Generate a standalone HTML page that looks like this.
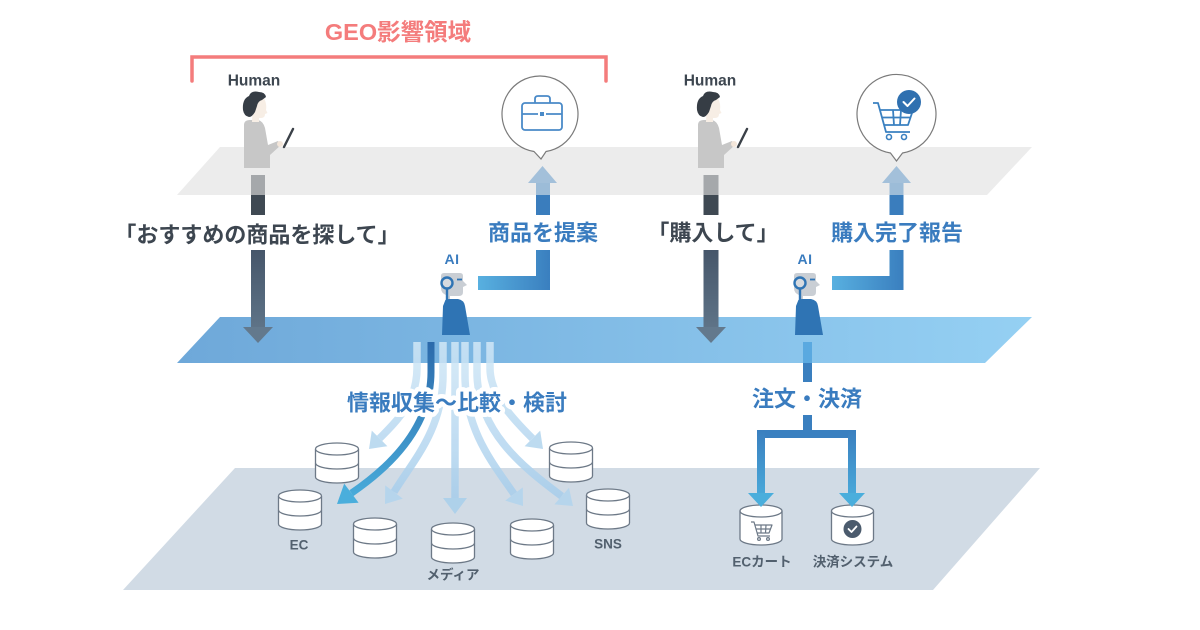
<!DOCTYPE html>
<html><head><meta charset="utf-8">
<style>
html,body{margin:0;padding:0;background:#fff;}
svg{display:block;}
text{font-family:"Liberation Sans","Noto Sans CJK JP",sans-serif;font-weight:700;}
</style></head><body>
<svg width="1200" height="630" viewBox="0 0 1200 630" xmlns="http://www.w3.org/2000/svg">
<defs>
<linearGradient id="bp" x1="177" y1="0" x2="1032" y2="0" gradientUnits="userSpaceOnUse">
<stop offset="0" stop-color="#6ea8d9"/><stop offset="1" stop-color="#95d0f3"/></linearGradient>
<linearGradient id="dk" x1="0" y1="250" x2="0" y2="343" gradientUnits="userSpaceOnUse">
<stop offset="0" stop-color="#46566a"/><stop offset="1" stop-color="#63798d"/></linearGradient>
<linearGradient id="lc" x1="478" y1="0" x2="550" y2="0" gradientUnits="userSpaceOnUse">
<stop offset="0" stop-color="#58b0e0"/><stop offset="1" stop-color="#3a7fbf"/></linearGradient>
<linearGradient id="lc2" x1="832" y1="0" x2="903" y2="0" gradientUnits="userSpaceOnUse">
<stop offset="0" stop-color="#58b0e0"/><stop offset="1" stop-color="#3a7fbf"/></linearGradient>
<linearGradient id="lt" x1="0" y1="342" x2="0" y2="514" gradientUnits="userSpaceOnUse">
<stop offset="0" stop-color="#d2e8f7"/><stop offset="1" stop-color="#a2cbeb"/></linearGradient>
<linearGradient id="dkb" x1="0" y1="342" x2="0" y2="504" gradientUnits="userSpaceOnUse">
<stop offset="0" stop-color="#2c6aab"/><stop offset="1" stop-color="#4aaedc"/></linearGradient>
<linearGradient id="vb" x1="0" y1="430" x2="0" y2="507" gradientUnits="userSpaceOnUse">
<stop offset="0" stop-color="#3a7fbf"/><stop offset="1" stop-color="#4cb0de"/></linearGradient>
</defs>

<!-- planes -->
<polygon points="235,468 1040,468 933,590 123,590" fill="#d1dbe5"/>
<polygon points="220,317 1032,317 985,363 177,363" fill="url(#bp)"/>
<polygon points="220,147 1032,147 987,195 177,195" fill="#ececec"/>

<!-- GEO bracket -->
<path d="M192,81 L192,57 L606,57 L606,81" fill="none" stroke="#f47c7c" stroke-width="3.5" stroke-linecap="round" stroke-linejoin="miter"/>
<text x="398" y="32" text-anchor="middle" dominant-baseline="central" font-size="23.5" fill="#f47c7c">GEO影響領域</text>

<!-- Human labels -->
<text x="254" y="81" text-anchor="middle" dominant-baseline="central" font-size="15.5" fill="#3d4650">Human</text>
<text x="710" y="81" text-anchor="middle" dominant-baseline="central" font-size="15.5" fill="#3d4650">Human</text>

<!-- person left -->
<g>
<path d="M244,125 Q244,120 250,120 L258,120 Q263,121 265,128 L268,145 L278,141 L281,145 L270,155 L270,168 L244,168 Z" fill="#c7c7c7"/>
<path d="M253,98 L264,98 Q267,104 266,110 L267.5,113 L265,114 Q265,118 261,118 L259,118 L259,122 L252,122 Z" fill="#f7eee5"/>
<path d="M243,110 Q242,99 249,96 Q251,90 259,92 Q265,92 266,97 L262,100 Q258,101 257,106 L255,112 Q252,117 249,117 Q244,116 243,110 Z" fill="#363d45"/>
<line x1="284" y1="147" x2="293" y2="129" stroke="#3b4148" stroke-width="2.4" stroke-linecap="round"/>
<circle cx="280" cy="144" r="3" fill="#f3e6da"/>
</g>
<!-- person right -->
<g transform="translate(454,0)">
<path d="M244,125 Q244,120 250,120 L258,120 Q263,121 265,128 L268,145 L278,141 L281,145 L270,155 L270,168 L244,168 Z" fill="#c7c7c7"/>
<path d="M253,98 L264,98 Q267,104 266,110 L267.5,113 L265,114 Q265,118 261,118 L259,118 L259,122 L252,122 Z" fill="#f7eee5"/>
<path d="M243,110 Q242,99 249,96 Q251,90 259,92 Q265,92 266,97 L262,100 Q258,101 257,106 L255,112 Q252,117 249,117 Q244,116 243,110 Z" fill="#363d45"/>
<line x1="284" y1="147" x2="293" y2="129" stroke="#3b4148" stroke-width="2.4" stroke-linecap="round"/>
<circle cx="280" cy="144" r="3" fill="#f3e6da"/>
</g>

<!-- human columns / down arrows -->
<rect x="251" y="175" width="14" height="20" fill="#a5a8ab"/>
<rect x="251" y="195" width="14" height="20" fill="#3f4953"/>
<rect x="251" y="250" width="14" height="78" fill="url(#dk)"/>
<polygon points="243,327 273,327 258,343" fill="#63798d"/>
<text x="257" y="235" text-anchor="middle" dominant-baseline="central" font-size="22" fill="#3d4650">「おすすめの商品を探して」</text>

<rect x="703.5" y="175" width="15" height="20" fill="#a5a8ab"/>
<rect x="703.5" y="195" width="15" height="20" fill="#3f4953"/>
<rect x="703.5" y="250" width="15" height="78" fill="url(#dk)"/>
<polygon points="696,327 726,327 711,343" fill="#63798d"/>
<text x="713" y="233" text-anchor="middle" dominant-baseline="central" font-size="22" fill="#3d4650">「購入して」</text>

<!-- bubbles -->
<path d="M546,151.5 A38,38 0 1 0 534,151.5 L541,159 Z" fill="#fff" stroke="#7a7a7a" stroke-width="1.2"/>
<g fill="none" stroke="#4a8ac8" stroke-width="1.8">
<rect x="522" y="103" width="40" height="27" rx="3"/>
<path d="M535,103 L535,99 Q535,96 538,96 L547,96 Q550,96 550,99 L550,103"/>
<path d="M522,114 L538,114 M546,114 L562,114"/>
</g>
<rect x="540" y="112" width="4" height="4" fill="#4a8ac8"/>

<path d="M902.5,153 A39.5,39.5 0 1 0 890.5,153 L896.5,161 Z" fill="#fff" stroke="#7a7a7a" stroke-width="1.2"/>
<g fill="none" stroke="#3a80c0" stroke-width="1.8" stroke-linejoin="round">
<path d="M873,103 L878,103 L886,132 L910,132"/>
<path d="M880,110 L913,110 L908,125 L884,125"/>
<path d="M893,110 L894,125 M901,110 L900,125 M882,117.5 L910,117.5"/>
</g>
<circle cx="889" cy="137" r="2.5" fill="#fff" stroke="#3a80c0" stroke-width="1.6"/>
<circle cx="904" cy="137" r="2.5" fill="#fff" stroke="#3a80c0" stroke-width="1.6"/>
<circle cx="909" cy="102" r="12" fill="#2f70b0"/>
<path d="M903.5,102 L907.5,106 L914.5,98.5" fill="none" stroke="#fff" stroke-width="2" stroke-linecap="round" stroke-linejoin="round"/>

<!-- up arrows -->
<polygon points="528,183 557,183 542.5,166" fill="#a3c0da"/>
<rect x="536" y="183" width="14" height="12" fill="#9cbcd8"/>
<rect x="536" y="195" width="14" height="20" fill="#3a7dbd"/>
<text x="543" y="233" text-anchor="middle" dominant-baseline="central" font-size="22" fill="#3a7cbf">商品を提案</text>
<polygon points="478,276 536,276 536,250 550,250 550,290 478,290" fill="url(#lc)"/>

<polygon points="882,183 911,183 896.5,166" fill="#a3c0da"/>
<rect x="889.5" y="183" width="14" height="12" fill="#9cbcd8"/>
<rect x="889.5" y="195" width="14" height="20" fill="#3a7dbd"/>
<text x="897" y="233" text-anchor="middle" dominant-baseline="central" font-size="22" fill="#3a7cbf">購入完了報告</text>
<polygon points="832,276 889.5,276 889.5,250 903.5,250 903.5,290 832,290" fill="url(#lc2)"/>

<!-- AI labels -->
<text x="452" y="259" text-anchor="middle" dominant-baseline="central" font-size="14" letter-spacing="0.5" fill="#3a7cbf">AI</text>
<text x="805" y="259" text-anchor="middle" dominant-baseline="central" font-size="14" letter-spacing="0.5" fill="#3a7cbf">AI</text>

<!-- AI left -->
<g>
<path d="M441,276 Q441,273 444,273 L460,273 Q463,273 463,276 L463,281 L467,285 L463,287 L463,292 Q463,296 459,296 L450,296 L450,300 L446,300 L446,295 Q441,293 441,288 Z" fill="#c9ced4"/>
<circle cx="447" cy="283" r="5.5" fill="#d6dadf" stroke="#2f74b4" stroke-width="2.4"/>
<line x1="447" y1="289" x2="447" y2="300" stroke="#2f74b4" stroke-width="2.4"/>
<line x1="457" y1="279.5" x2="462" y2="279.5" stroke="#2f74b4" stroke-width="1.8"/>
<path d="M445,301 Q445,299 450,299 L458,299 Q464,300 465,306 L470,335 L442,335 L443,306 Z" fill="#2f74b4"/>
</g>
<!-- AI right -->
<g transform="translate(353,0)">
<path d="M441,276 Q441,273 444,273 L460,273 Q463,273 463,276 L463,281 L467,285 L463,287 L463,292 Q463,296 459,296 L450,296 L450,300 L446,300 L446,295 Q441,293 441,288 Z" fill="#c9ced4"/>
<circle cx="447" cy="283" r="5.5" fill="#d6dadf" stroke="#2f74b4" stroke-width="2.4"/>
<line x1="447" y1="289" x2="447" y2="300" stroke="#2f74b4" stroke-width="2.4"/>
<line x1="457" y1="279.5" x2="462" y2="279.5" stroke="#2f74b4" stroke-width="1.8"/>
<path d="M445,301 Q445,299 450,299 L458,299 Q464,300 465,306 L470,335 L442,335 L443,306 Z" fill="#2f74b4"/>
</g>

<!-- fan arrows (light) -->
<g opacity="0.85">
<g fill="none" stroke="url(#lt)" stroke-width="7.5">
<path d="M417,342 L417,368 C417,400 400,418 379.6,438.4"/>
<path d="M443,342 L443,375 C443,430 412,462 394,492"/>
<path d="M455,342 L455,498"/>
<path d="M465,342 L465,375 C465,430 492,462 514,494"/>
<path d="M477,342 L477,372 C477,430 520,465 561.7,496.1"/>
<path d="M490,342 L490,368 C490,395 512,418 532.4,438.4"/>
</g>
<g fill="#b2d5ee">
<polygon points="369,449 371.8,430.6 387.4,446.2"/>
<polygon points="385,504 385.2,485.4 402.8,498.6"/>
<polygon points="455,514 443,498 467,498" fill="#a8d0ec"/>
<polygon points="523,506 505.2,500.6 522.8,487.4"/>
<polygon points="573,506 554.4,504.4 569,487.8"/>
<polygon points="543,449 524.6,446.2 540.2,430.6"/>
</g>
</g>
<!-- dark arrow -->
<path d="M431,342 L431,372 C431,420 400,460 351.4,493.2" fill="none" stroke="url(#dkb)" stroke-width="7"/>
<polygon points="337,504 344.2,483.6 358.6,502.8" fill="#4aaedc"/>

<text x="457" y="403" text-anchor="middle" dominant-baseline="central" font-size="22" fill="#3a7cbf" stroke="#fff" stroke-width="9" stroke-linejoin="round" paint-order="stroke">情報収集～比較・検討</text>

<!-- databases -->
<g fill="#fff" stroke="#6d7987" stroke-width="1.3">
<g transform="translate(337,443)"><path d="M-21.5,6 L-21.5,34 A21.5,6 0 0 0 21.5,34 L21.5,6"/><ellipse cx="0" cy="6" rx="21.5" ry="6"/><path d="M-21.5,20 A21.5,6 0 0 0 21.5,20" fill="none"/></g>
<g transform="translate(300,490)"><path d="M-21.5,6 L-21.5,34 A21.5,6 0 0 0 21.5,34 L21.5,6"/><ellipse cx="0" cy="6" rx="21.5" ry="6"/><path d="M-21.5,20 A21.5,6 0 0 0 21.5,20" fill="none"/></g>
<g transform="translate(375,518)"><path d="M-21.5,6 L-21.5,34 A21.5,6 0 0 0 21.5,34 L21.5,6"/><ellipse cx="0" cy="6" rx="21.5" ry="6"/><path d="M-21.5,20 A21.5,6 0 0 0 21.5,20" fill="none"/></g>
<g transform="translate(453,523)"><path d="M-21.5,6 L-21.5,34 A21.5,6 0 0 0 21.5,34 L21.5,6"/><ellipse cx="0" cy="6" rx="21.5" ry="6"/><path d="M-21.5,20 A21.5,6 0 0 0 21.5,20" fill="none"/></g>
<g transform="translate(532,519)"><path d="M-21.5,6 L-21.5,34 A21.5,6 0 0 0 21.5,34 L21.5,6"/><ellipse cx="0" cy="6" rx="21.5" ry="6"/><path d="M-21.5,20 A21.5,6 0 0 0 21.5,20" fill="none"/></g>
<g transform="translate(571,442)"><path d="M-21.5,6 L-21.5,34 A21.5,6 0 0 0 21.5,34 L21.5,6"/><ellipse cx="0" cy="6" rx="21.5" ry="6"/><path d="M-21.5,20 A21.5,6 0 0 0 21.5,20" fill="none"/></g>
<g transform="translate(608,489)"><path d="M-21.5,6 L-21.5,34 A21.5,6 0 0 0 21.5,34 L21.5,6"/><ellipse cx="0" cy="6" rx="21.5" ry="6"/><path d="M-21.5,20 A21.5,6 0 0 0 21.5,20" fill="none"/></g>
<g transform="translate(761,505)"><path d="M-21,6 L-21,34 A21,6 0 0 0 21,34 L21,6"/><ellipse cx="0" cy="6" rx="21" ry="6"/></g>
<g transform="translate(852.5,505)"><path d="M-21,6 L-21,34 A21,6 0 0 0 21,34 L21,6"/><ellipse cx="0" cy="6" rx="21" ry="6"/></g>
</g>
<!-- cart small -->
<g fill="none" stroke="#6d7987" stroke-width="1.2" stroke-linejoin="round">
<path d="M751,522 L754,522 L758,536 L770,536"/>
<path d="M755,525 L772,525 L769,533 L757,533"/>
<path d="M761,525 L761,533 M766,525 L765.5,533 M756,529 L770.5,529"/>
<circle cx="759" cy="539" r="1.4"/><circle cx="768" cy="539" r="1.4"/>
</g>
<circle cx="852.5" cy="529" r="9" fill="#4b5b6d"/>
<path d="M848.5,529 L851.5,532 L856.5,526.5" fill="none" stroke="#fff" stroke-width="1.8" stroke-linecap="round" stroke-linejoin="round"/>

<!-- db labels -->
<g font-size="13.5" fill="#52606e" text-anchor="middle" dominant-baseline="central">
<text x="299" y="545">EC</text>
<text x="453" y="575">メディア</text>
<text x="608" y="544">SNS</text>
<text x="762" y="562">ECカート</text>
<text x="853" y="562">決済システム</text>
</g>

<!-- right order path -->
<rect x="803" y="342" width="9" height="21" fill="#5aa9e0"/>
<rect x="803" y="363" width="9" height="19" fill="#3a7fbf"/>
<text x="807" y="399" text-anchor="middle" dominant-baseline="central" font-size="22" fill="#3a7cbf">注文・決済</text>
<rect x="803" y="415" width="9" height="17" fill="#3a7fbf"/>
<rect x="757" y="430" width="99" height="8" fill="#3a80c0"/>
<rect x="757" y="430" width="8" height="64" fill="url(#vb)"/>
<rect x="848" y="430" width="8" height="64" fill="url(#vb)"/>
<polygon points="748,493 774,493 761,507" fill="#4aaedc"/>
<polygon points="839,493 865,493 852,507" fill="#4aaedc"/>
</svg>
</body></html>
